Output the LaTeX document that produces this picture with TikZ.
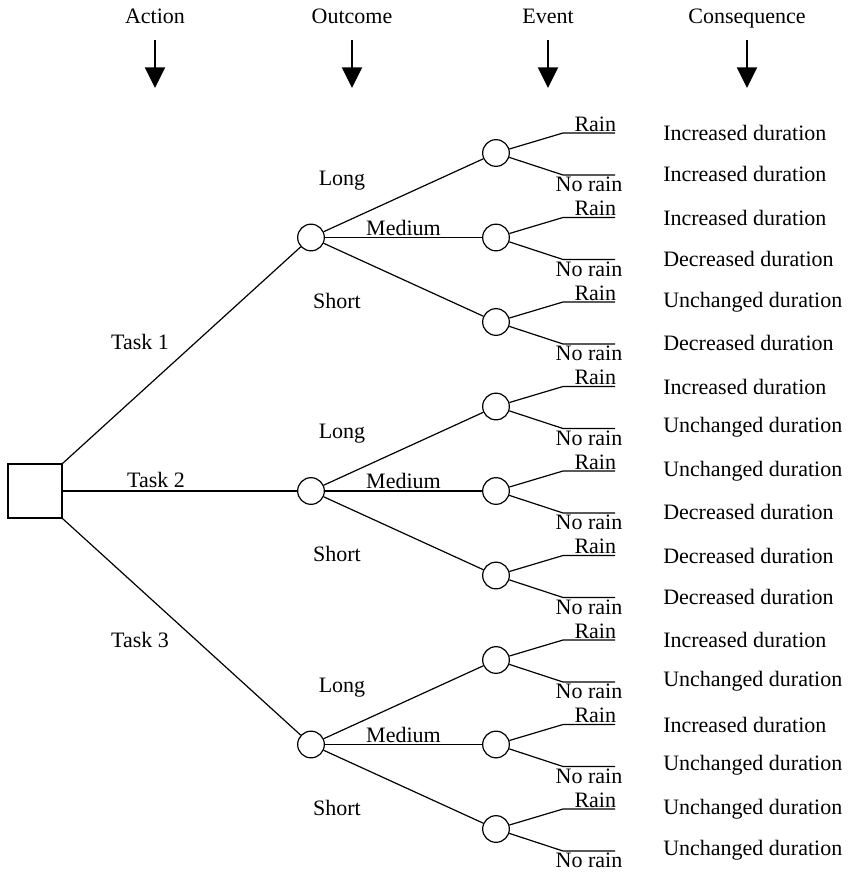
\documentclass[tikz,border=0pt]{standalone}
\usepackage{fontspec}
\setmainfont{Liberation Serif}
\usetikzlibrary{arrows.meta,positioning}

\begin{document}
\begin{tikzpicture}[x=0.75pt,y=-0.75pt,
  every node/.style={font=\fontsize{16.5}{19}\selectfont},
  chance/.style={draw,circle,minimum size=20pt,inner sep=0pt,line width=0.9pt},
  choice/.style={draw,rectangle,minimum size=40pt,inner sep=0pt,line width=1.4pt},
  branch/.style={line width=0.9pt},
  head/.style={-{Triangle[length=15.5pt,width=15pt]},line width=1.6pt}]
  \useasboundingbox (0,0) rectangle (851,874);
  % column headers with their arrows
  \foreach \x/\t [count=\i] in {155/Action,352/Outcome,548/Event,747/Consequence} {
    \node[anchor=base] (h\i) at (\x,24) {\t};
    \coordinate (ha\i) at (\x,40);
    \coordinate (hb\i) at (\x,88);
    \draw[head] (ha\i) -- (hb\i);
  }
  % decision square and the three tasks
  \node[choice] (act) at (35,491) {};
  \foreach \g in {1,2,3} {
    \pgfmathsetmacro{\oy}{237.5+253.5*(\g-1)}
    \node[chance] (o\g) at (311,\oy) {};
    \node at (342,\oy-57) {Long};
    \node at (337,\oy+63) {Short};
  }
  \draw[branch] (act.north east) -- (o1);
  \draw[branch] (act) -- (o2);
  \draw[branch] (act.south east) -- (o3);
  \node at (140,342) {Task 1};
  \node at (156,480) {Task 2};
  \node at (140,640) {Task 3};
  % chance nodes for the events, rain / no rain and the consequences
  \foreach \g/\k/\a/\b in {1/1/Increased/Increased,1/2/Increased/Decreased,1/3/Unchanged/Decreased,
                           2/1/Increased/Unchanged,2/2/Unchanged/Decreased,2/3/Decreased/Decreased,
                           3/1/Increased/Unchanged,3/2/Increased/Unchanged,3/3/Unchanged/Unchanged} {
    \pgfmathsetmacro{\ey}{153+253.5*(\g-1)+84.5*(\k-1)}
    \node[chance] (e\g\k) at (496,\ey) {};
    \coordinate (rj\g\k) at (563,\ey-20);
    \coordinate (re\g\k) at (615,\ey-20);
    \coordinate (nj\g\k) at (563,\ey+22);
    \coordinate (ne\g\k) at (615,\ey+22);
    \draw[branch] (e\g\k) -- (rj\g\k) -- (re\g\k);
    \draw[branch] (e\g\k) -- (nj\g\k) -- node[below,inner sep=1pt] {No rain} (ne\g\k);
    \node[anchor=south east,inner sep=1pt,xshift=2] (rl\g\k) at (re\g\k) {Rain};
    \node[anchor=west,inner sep=0pt] (ca\g\k) at (663,\ey-20) {\a{} duration};
    \node[anchor=west,inner sep=0pt] (cb\g\k) at (663,\ey+21) {\b{} duration};
  }
  \foreach \g in {1,2,3} {
    \draw[branch] (o\g) -- (e\g1);
    \draw[branch] (o\g) -- node[above,inner sep=1pt] {Medium} (e\g2);
    \draw[branch] (o\g) -- (e\g3);
  }
\end{tikzpicture}
\end{document}
